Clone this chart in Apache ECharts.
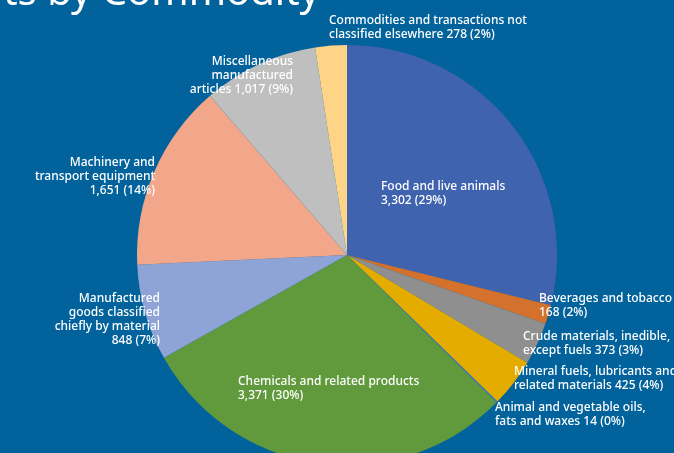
<!DOCTYPE html>
<html>
<head>
<meta charset="utf-8">
<script src="https://cdn.jsdelivr.net/npm/echarts@6/dist/echarts.min.js"></script>
<style>
html,body{margin:0;padding:0;background:#02629b;}
#chart{width:674px;height:453px;}
</style>
</head>
<body>
<div id="chart"></div>
<script>
// Data
const categories = [
  'Food and live animals',
  'Beverages and tobacco',
  'Crude materials, inedible,\nexcept fuels',
  'Mineral fuels, lubricants and\nrelated materials',
  'Animal and vegetable oils,\nfats and waxes',
  'Chemicals and related products',
  'Manufactured\ngoods classified\nchiefly by material',
  'Machinery and\ntransport equipment',
  'Miscellaneous\nmanufactured\narticles',
  'Commodities and transactions not\nclassified elsewhere'
];
const values = [3302, 168, 373, 425, 14, 3371, 848, 1651, 1017, 278];
const percents = [29, 2, 3, 4, 0, 30, 7, 14, 9, 2];
const valueOnNewLine = [true, true, false, false, false, true, true, true, false, false];
const colors = ['#3f63ae', '#d4712d', '#8f8f8f', '#e5ac00', '#4a7bbd', '#619a3c', '#8ea3d6', '#f2a78b', '#bfbfbf', '#fed487'];

// Label anchor layout (left/top of each label block)
const labelPos = [
  {x: 381, y: 180, align: 'left'},
  {x: 539, y: 292, align: 'left'},
  {x: 523, y: 330, align: 'left'},
  {x: 514, y: 365, align: 'left'},
  {x: 495, y: 401, align: 'left'},
  {x: 238, y: 375, align: 'left'},
  {x: 160, y: 292, align: 'right'},
  {x: 155, y: 156, align: 'right'},
  {x: 293, y: 55, align: 'right'},
  {x: 329, y: 14, align: 'left'}
];

function fmt(n) { return n.toLocaleString('en-US'); }

const chart = echarts.init(document.getElementById('chart'));
chart.setOption({
  backgroundColor: '#02629b',
  animation: false,
  graphic: [{
    type: 'text',
    style: {
      x: 320,
      y: 14,
      text: 'Imports by Commodity',
      fill: '#ffffff',
      font: '40px "Noto Sans"',
      align: 'right',
      verticalAlign: 'bottom'
    }
  }],
  series: [{
    type: 'pie',
    center: [347, 255],
    radius: [0, 210],
    startAngle: 90,
    clockwise: true,
    avoidLabelOverlap: false,
    data: categories.map((c, i) => ({
      name: c,
      value: values[i],
      itemStyle: {color: colors[i]}
    })),
    itemStyle: {borderWidth: 0},
    label: {
      show: true,
      position: 'inside',
      color: '#ffffff',
      fontFamily: 'Noto Sans',
      fontSize: 12,
      fontWeight: 500,
      lineHeight: 14,
      formatter: (p) => {
        const i = p.dataIndex;
        const v = fmt(values[i]) + ' (' + percents[i] + '%)';
        return categories[i] + (valueOnNewLine[i] ? '\n' : ' ') + v;
      }
    },
    labelLine: {show: false},
    labelLayout: (p) => {
      const lp = labelPos[p.dataIndex];
      return {x: lp.x, y: lp.y, align: lp.align, verticalAlign: 'top'};
    },
    emphasis: {disabled: true}
  }]
});
</script>
</body>
</html>
